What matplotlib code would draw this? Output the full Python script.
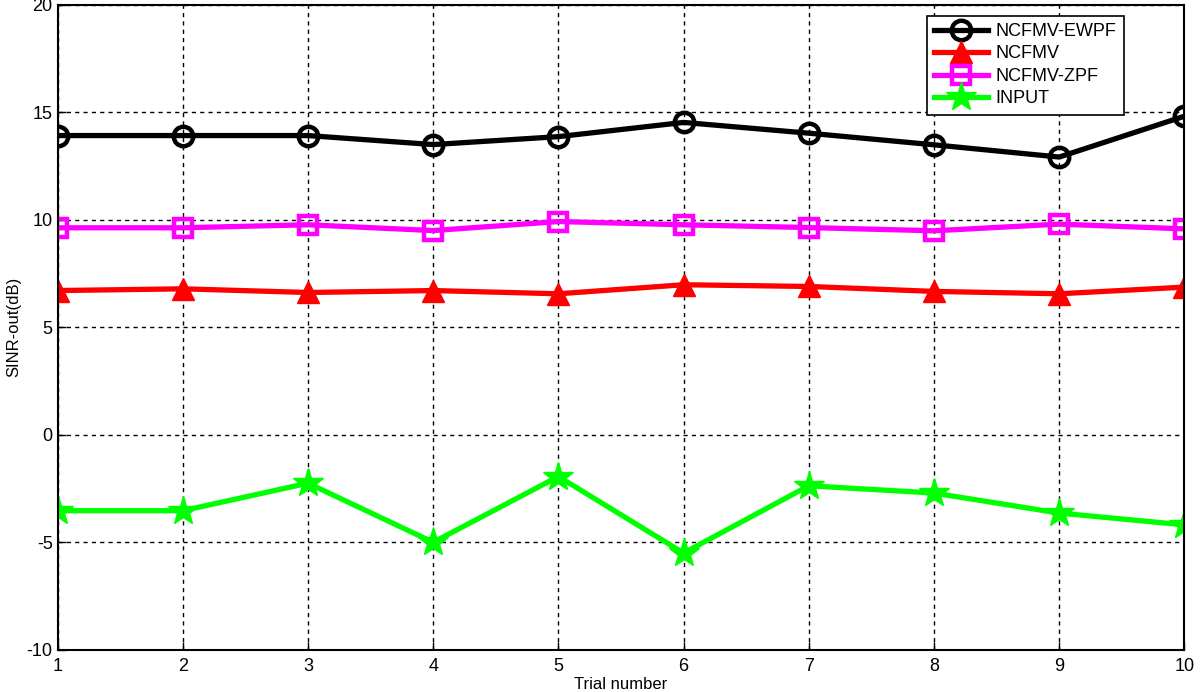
import numpy as np
import matplotlib.pyplot as plt

plt.rcParams['font.family'] = ['Liberation Sans', 'DejaVu Sans']
plt.rcParams['axes.unicode_minus'] = False

# data
trials = np.arange(1, 11)
ewpf = [13.92, 13.92, 13.92, 13.5, 13.87, 14.53, 14.03, 13.49, 12.92, 14.82]
ncfmv = [6.71, 6.79, 6.62, 6.71, 6.56, 6.98, 6.9, 6.67, 6.56, 6.87]
zpf = [9.63, 9.63, 9.77, 9.5, 9.92, 9.77, 9.64, 9.49, 9.8, 9.58]
inp = [-3.53, -3.53, -2.25, -5.0, -1.94, -5.5, -2.37, -2.71, -3.64, -4.19]

fig = plt.figure(figsize=(12, 6.92), dpi=100)
ax = fig.add_axes([0.048, 0.061, 0.939, 0.932])

lw = 3.8
ax.plot(trials, ewpf, color='black', lw=lw, marker='o', ms=14, mfc='none',
        mec='black', mew=3.2, label='NCFMV-EWPF')
ax.plot(trials, ncfmv, color='red', lw=lw, marker='^', ms=16,
        mfc='red', mec='red', label='NCFMV')
ax.plot(trials, zpf, color='magenta', lw=lw, marker='s', ms=12.5, mfc='none',
        mec='magenta', mew=3.2, label='NCFMV-ZPF')
ax.plot(trials, inp, color='#00ff00', lw=lw, marker='*', ms=22,
        mfc='#00ff00', mec='#00ff00', label='INPUT')

ax.set_xlim(1, 10)
ax.set_ylim(-10, 20)
ax.set_xticks(trials)
ax.set_yticks(np.arange(-10, 21, 5))
ax.grid(True, color='black', linestyle=(0, (3, 3)), linewidth=1)
ax.tick_params(direction='in', labelsize=13, length=6, width=1)
ax.tick_params(axis='x', pad=6)
for s in ax.spines.values():
    s.set_linewidth(1.5)

ax.set_xlabel('Trial number', fontsize=12, labelpad=1)
ax.set_ylabel('SINR-out(dB)', fontsize=12, labelpad=4)

leg = ax.legend(loc='upper right', bbox_to_anchor=(0.946, 0.983),
                fontsize=13, handlelength=3, labelspacing=0.3,
                fancybox=False, edgecolor='black', framealpha=1,
                borderaxespad=0, handletextpad=0.4)
leg.get_frame().set_linewidth(1.2)

fig.savefig('out.png', dpi=100)
